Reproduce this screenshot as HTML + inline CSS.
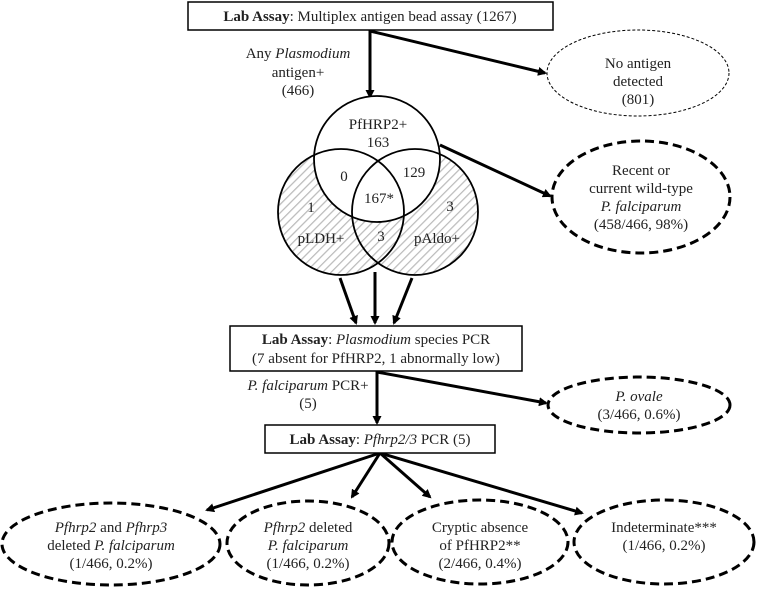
<!DOCTYPE html>
<html><head><meta charset="utf-8"><style>
html,body{margin:0;padding:0;background:#fff;}
svg{display:block;font-family:"Liberation Serif",serif;font-size:15px;fill:#222;}
</style></head><body>
<svg width="757" height="590" viewBox="0 0 757 590" xmlns="http://www.w3.org/2000/svg">
<defs>
<marker id="ah" markerWidth="9" markerHeight="9" refX="7" refY="4.5" orient="auto" markerUnits="userSpaceOnUse"><path d="M0,0 L9,4.5 L0,9 z" fill="#000"/></marker>
<pattern id="hatch" width="6" height="6" patternUnits="userSpaceOnUse" patternTransform="rotate(45)"><rect width="6" height="6" fill="#fff"/><line x1="0" y1="0" x2="0" y2="6" stroke="#bbb" stroke-width="2.5"/></pattern>
</defs>
<g stroke="#000" stroke-width="3" fill="none" marker-end="url(#ah)">
<line x1="370" y1="30" x2="370" y2="97"/>
<line x1="370" y1="31" x2="545" y2="73"/>
<line x1="440" y1="145" x2="550" y2="196"/>
<line x1="340" y1="278" x2="356" y2="323"/>
<line x1="375" y1="272" x2="375" y2="323"/>
<line x1="412" y1="278" x2="394" y2="323"/>
<line x1="377" y1="371" x2="377" y2="423"/>
<line x1="377" y1="372" x2="546" y2="403"/>
<line x1="380" y1="453" x2="207" y2="510"/>
<line x1="380" y1="453" x2="352" y2="497"/>
<line x1="380" y1="453" x2="430" y2="497"/>
<line x1="380" y1="453" x2="582" y2="513"/>
</g>
<rect x="188" y="2" width="365" height="28" fill="#fff" stroke="#000" stroke-width="1.5"/>
<text x="370" y="21" text-anchor="middle"><tspan font-weight="bold">Lab Assay</tspan>: Multiplex antigen bead assay (1267)</text>
<text x="298" y="58" text-anchor="middle">Any <tspan font-style="italic">Plasmodium</tspan></text>
<text x="298" y="77" text-anchor="middle">antigen+</text>
<text x="298" y="95" text-anchor="middle">(466)</text>
<ellipse cx="638" cy="73" rx="91" ry="43" fill="#fff" stroke="#000" stroke-width="1" stroke-dasharray="3,2"/>
<text x="638" y="68" text-anchor="middle">No antigen</text>
<text x="638" y="86" text-anchor="middle">detected</text>
<text x="638" y="104" text-anchor="middle">(801)</text>
<circle cx="341" cy="212" r="63" fill="url(#hatch)" stroke="none"/>
<circle cx="415" cy="212" r="63" fill="url(#hatch)" stroke="none"/>
<circle cx="377" cy="159" r="63" fill="#fff" stroke="none"/>
<g fill="none" stroke="#000" stroke-width="1.8">
<circle cx="377" cy="159" r="63"/>
<circle cx="341" cy="212" r="63"/>
<circle cx="415" cy="212" r="63"/>
</g>
<text x="378" y="129" text-anchor="middle">PfHRP2+</text>
<text x="378" y="147" text-anchor="middle">163</text>
<text x="344" y="181" text-anchor="middle">0</text>
<text x="414" y="177" text-anchor="middle">129</text>
<text x="379" y="203" text-anchor="middle">167*</text>
<text x="311" y="212" text-anchor="middle">1</text>
<text x="450" y="211" text-anchor="middle">3</text>
<text x="321" y="243" text-anchor="middle">pLDH+</text>
<text x="381" y="241" text-anchor="middle">3</text>
<text x="437" y="243" text-anchor="middle">pAldo+</text>
<ellipse cx="641" cy="197" rx="89" ry="56" fill="#fff" stroke="#000" stroke-width="3" stroke-dasharray="9,5"/>
<text x="641" y="175" text-anchor="middle">Recent or</text>
<text x="641" y="193" text-anchor="middle">current wild-type</text>
<text x="641" y="211" text-anchor="middle" font-style="italic">P. falciparum</text>
<text x="641" y="229" text-anchor="middle">(458/466, 98%)</text>
<rect x="230" y="326" width="292" height="45" fill="#fff" stroke="#000" stroke-width="1.5"/>
<text x="376" y="344" text-anchor="middle"><tspan font-weight="bold">Lab Assay</tspan>: <tspan font-style="italic">Plasmodium</tspan> species PCR</text>
<text x="376" y="363" text-anchor="middle">(7 absent for PfHRP2, 1 abnormally low)</text>
<text x="308" y="390" text-anchor="middle"><tspan font-style="italic">P. falciparum</tspan> PCR+</text>
<text x="308" y="408" text-anchor="middle">(5)</text>
<ellipse cx="639" cy="405" rx="91" ry="28" fill="#fff" stroke="#000" stroke-width="3" stroke-dasharray="9,5"/>
<text x="639" y="401" text-anchor="middle" font-style="italic">P. ovale</text>
<text x="639" y="419" text-anchor="middle">(3/466, 0.6%)</text>
<rect x="265" y="425" width="230" height="28" fill="#fff" stroke="#000" stroke-width="1.5"/>
<text x="380" y="444" text-anchor="middle"><tspan font-weight="bold">Lab Assay</tspan>: <tspan font-style="italic">Pfhrp2/3</tspan> PCR (5)</text>
<g fill="#fff" stroke="#000" stroke-width="3" stroke-dasharray="9,5">
<ellipse cx="111" cy="544" rx="109" ry="41"/>
<ellipse cx="308" cy="543" rx="81" ry="42"/>
<ellipse cx="480" cy="542" rx="88" ry="42"/>
<ellipse cx="664" cy="542" rx="90" ry="42"/>
</g>
<text x="111" y="532" text-anchor="middle"><tspan font-style="italic">Pfhrp2</tspan> and <tspan font-style="italic">Pfhrp3</tspan></text>
<text x="111" y="550" text-anchor="middle">deleted <tspan font-style="italic">P. falciparum</tspan></text>
<text x="111" y="568" text-anchor="middle">(1/466, 0.2%)</text>
<text x="308" y="532" text-anchor="middle"><tspan font-style="italic">Pfhrp2</tspan> deleted</text>
<text x="308" y="550" text-anchor="middle" font-style="italic">P. falciparum</text>
<text x="308" y="568" text-anchor="middle">(1/466, 0.2%)</text>
<text x="480" y="532" text-anchor="middle">Cryptic absence</text>
<text x="480" y="550" text-anchor="middle">of PfHRP2**</text>
<text x="480" y="568" text-anchor="middle">(2/466, 0.4%)</text>
<text x="664" y="532" text-anchor="middle">Indeterminate***</text>
<text x="664" y="550" text-anchor="middle">(1/466, 0.2%)</text>
</svg>
</body></html>
